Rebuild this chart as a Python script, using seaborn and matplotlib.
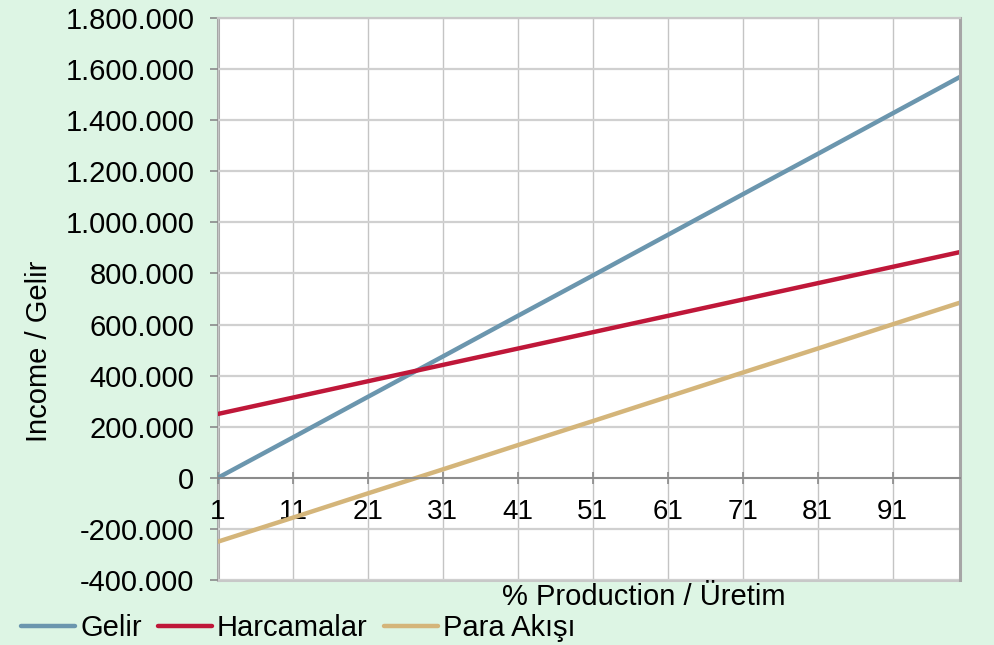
import numpy as np
import pandas as pd
import matplotlib
matplotlib.use("Agg")
import matplotlib.pyplot as plt
import seaborn as sns
from matplotlib.ticker import FuncFormatter, FixedLocator

# values (x = % production)
production = [1, 11, 21, 31, 41, 51, 61, 71, 81, 91, 100]
gelir = [0, 158000, 317000, 475000, 634000, 792000, 951000, 1110000, 1268000, 1427000, 1570000]
harcamalar = [250000, 314000, 378000, 442000, 506000, 570000, 634000, 698000, 762000, 826000, 884000]
para_akisi = [-250000, -156000, -61000, 33000, 128000, 222000, 317000, 412000, 506000, 601000, 686000]

series_names = ["Gelir", "Harcamalar", "Para Akışı"]
colors = ["#6b96ae", "#bf1739", "#d4b57a"]

df = pd.DataFrame({"Production": production,
                   "Gelir": gelir,
                   "Harcamalar": harcamalar,
                   "Para Akışı": para_akisi})
long_df = df.melt(id_vars="Production", var_name="Seri", value_name="Deger")

sns.set_style("whitegrid")
plt.rcParams['font.family'] = ['Liberation Sans', 'DejaVu Sans']
plt.rcParams['text.color'] = 'black'

bg = "#ddf5e4"
fs = 21
fig = plt.figure(figsize=(9.95, 6.45), dpi=100, facecolor=bg)
ax = fig.add_axes([0.219, 0.1008, 0.746, 0.8712])
ax.set_facecolor("white")

sns.lineplot(data=long_df, x="Production", y="Deger", hue="Seri",
             hue_order=series_names, palette=colors, linewidth=3.2, ax=ax,
             legend=False)

ax.set_xlim(1, 100)
ax.set_ylim(-400000, 1800000)
ax.yaxis.set_major_locator(FixedLocator(np.arange(-400000, 1800001, 200000)))
ax.yaxis.set_major_formatter(FuncFormatter(lambda v, p: f"{v:,.0f}".replace(",", ".")))
ax.xaxis.set_major_locator(FixedLocator(range(1, 100, 10)))

ax.grid(True, color="#c4c4c4", linewidth=1.0)
ax.grid(True, axis="y", color="#d0d0d0", linewidth=1.6)

for s in ["left", "right"]:
    ax.spines[s].set_color("#a6a6a6")
    ax.spines[s].set_linewidth(2.2)
# left border under the tick labels so the "1" stays readable
ax.spines["left"].set_zorder(0.4)
ax.spines["top"].set_color("#c8c8c8")
ax.spines["top"].set_linewidth(1.6)
ax.spines["bottom"].set_position(("data", 0))
ax.spines["bottom"].set_color("#8a8a8a")
ax.spines["bottom"].set_linewidth(1.4)
ax.axhline(-400000, color="#c8c8c8", linewidth=2.2, clip_on=False, zorder=0.5)

ax.tick_params(axis="y", direction="out", length=6, width=1.2, color="#8a8a8a",
               labelsize=fs, labelcolor="black", pad=11, left=True)
ax.tick_params(axis="x", direction="inout", length=9, width=1.2, color="#8a8a8a",
               labelsize=20, labelcolor="black", pad=11, bottom=True)

ax.set_xlabel("")
ax.set_ylabel("")
fig.text(0.0387, 0.456, "Income / Gelir", rotation=90, fontsize=fs,
         ha="center", va="center")
fig.text(0.647, 0.074, "% Production / Üretim", fontsize=fs,
         ha="center", va="center")

handles = [plt.Line2D([], [], color=c, linewidth=3.2) for c in colors]
fig.legend(handles, series_names, loc="center left", bbox_to_anchor=(0.021, 0.026),
           ncol=3, frameon=False, fontsize=fs, handlelength=1.86,
           handletextpad=0.17, columnspacing=0.55, borderaxespad=0, borderpad=0)

fig.savefig("out.png", dpi=100, facecolor=bg)
